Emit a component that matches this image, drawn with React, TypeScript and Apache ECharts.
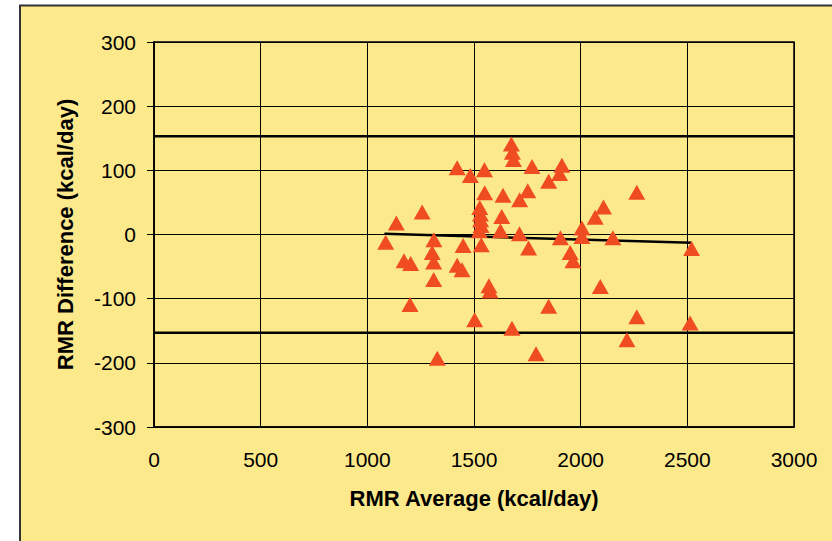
import React, { useEffect, useRef } from "react";
import * as echarts from "echarts";

const xTicks = [0, 500, 1000, 1500, 2000, 2500, 3000];
const yTicks = [-300, -200, -100, 0, 100, 200, 300];

const rmrAverage = [
  1086, 1136, 1172, 1203, 1200, 1257, 1304, 1312, 1311, 1311, 1328, 1421, 1421, 1444,
  1483, 1449, 1503, 1527, 1530, 1531, 1533, 1525, 1534, 1549, 1550, 1570, 1575, 1624,
  1630, 1636, 1675, 1680, 1685, 1678, 1713, 1714, 1752, 1756, 1772, 1791, 1850, 1850,
  1901, 1912, 1905, 1951, 1964, 2006, 2006, 2068, 2107, 2092, 2151, 2263, 2263, 2217,
  2513, 2520,
];
const rmrDifference = [
  -12, 18, -41, -45, -109, 35, -28, -8, -43, -70, -193, 104, -48, -55,
  92, -17, -133, 42, 32, 23, 14, 6, -16, 101, 65, -80, -88, 6,
  28, 61, 141, 128, 117, -146, 1, 54, 68, -21, 106, -186, 83, -112,
  95, 108, -5, -28, -41, 10, -3, 27, 43, -81, -5, 66, -128, -164,
  -138, -22,
];

const upperLimit = 153;
const lowerLimit = -153;
const meanLineX = [1080, 2520];
const meanLineY = [1, -13];

const FONT = "'Liberation Sans', Arial, sans-serif";

export default function App() {
  const ref = useRef<HTMLDivElement>(null);
  useEffect(() => {
    if (!ref.current) return;
    const chart = echarts.init(ref.current, undefined, { renderer: "svg" });
    const points = rmrAverage.map((x, i) => [x, rmrDifference[i]]);
    chart.setOption({
      animation: false,
      backgroundColor: "#ffffff",
      graphic: [
        {
          type: "rect",
          z: -100,
          silent: true,
          shape: { x: 20, y: 5.5, width: 900, height: 600 },
          style: { fill: "#FCE98C", stroke: "#333333", lineWidth: 2 },
        },
      ],
      grid: {
        left: 154,
        top: 42,
        width: 640,
        height: 385,
        show: true,
        borderColor: "#000000",
        borderWidth: 1.5,
        backgroundColor: "transparent",
      },
      xAxis: {
        type: "value",
        min: xTicks[0],
        max: xTicks[xTicks.length - 1],
        interval: 500,
        name: "RMR Average (kcal/day)",
        nameLocation: "middle",
        nameGap: 60,
        nameTextStyle: { fontFamily: FONT, fontSize: 22, fontWeight: "bold", color: "#000" },
        axisLine: { show: true, onZero: false, lineStyle: { color: "#000", width: 1.5 } },
        axisTick: { show: false },
        axisLabel: {
          fontFamily: FONT,
          fontSize: 21,
          color: "#000",
          margin: 22,
          formatter: (v: number) => String(v),
        },
        splitLine: { show: true, lineStyle: { color: "#000", width: 1 } },
      },
      yAxis: {
        type: "value",
        min: yTicks[0],
        max: yTicks[yTicks.length - 1],
        interval: 100,
        name: "RMR Difference (kcal/day)",
        nameLocation: "middle",
        nameGap: 78,
        nameTextStyle: { fontFamily: FONT, fontSize: 22, fontWeight: "bold", color: "#000" },
        axisLine: { show: true, onZero: false, lineStyle: { color: "#000", width: 1.5 } },
        axisTick: { show: true, inside: false, length: 7, lineStyle: { color: "#000", width: 1 } },
        axisLabel: {
          fontFamily: FONT,
          fontSize: 21,
          color: "#000",
          margin: 18,
          formatter: (v: number) => String(v),
        },
        splitLine: { show: true, lineStyle: { color: "#000", width: 1 } },
      },
      series: [
        {
          type: "line",
          data: [[xTicks[0], upperLimit], [xTicks[xTicks.length - 1], upperLimit]],
          symbol: "none",
          lineStyle: { color: "#000", width: 2.5 },
          z: 3,
        },
        {
          type: "line",
          data: [[xTicks[0], lowerLimit], [xTicks[xTicks.length - 1], lowerLimit]],
          symbol: "none",
          lineStyle: { color: "#000", width: 2.5 },
          z: 3,
        },
        {
          type: "line",
          data: [[meanLineX[0], meanLineY[0]], [meanLineX[1], meanLineY[1]]],
          symbol: "none",
          lineStyle: { color: "#000", width: 2.5 },
          z: 3,
        },
        {
          type: "scatter",
          data: points,
          symbol: "triangle",
          symbolSize: [17, 15],
          itemStyle: { color: "#F04C22", opacity: 1 },
          z: 4,
        },
      ],
    });
    return () => chart.dispose();
  }, []);
  return (
    <div
      ref={ref}
      style={{ position: "fixed", left: 0, top: 0, width: 832, height: 541 }}
    />
  );
}
